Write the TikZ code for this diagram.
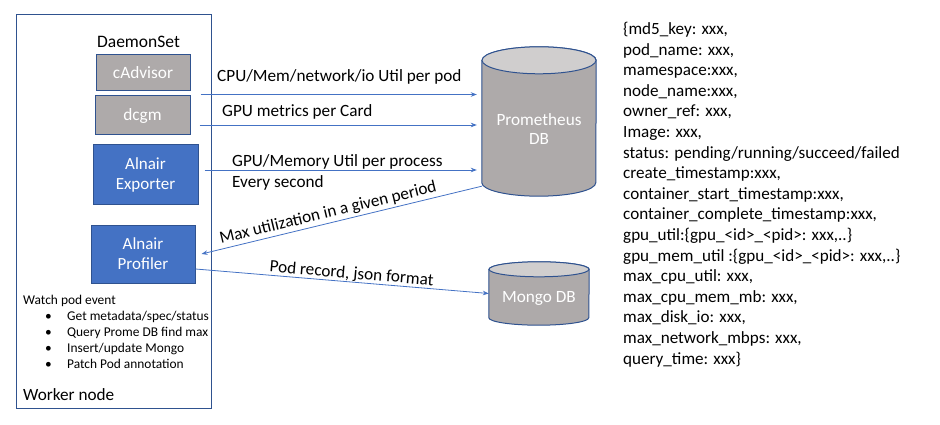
\documentclass[tikz,border=0pt]{standalone}
\usepackage{fontspec}
\setmainfont{Carlito}
\usepackage{tikz}
\usetikzlibrary{arrows.meta,positioning}
\definecolor{edgeblue}{HTML}{2F528F}
\definecolor{alnairblue}{HTML}{4472C4}
\definecolor{podgray}{HTML}{AEAAAA}
\definecolor{captop}{HTML}{D0CECE}

\begin{document}
\begin{tikzpicture}[x=1pt, y=1pt,
        every node/.style={inner sep=0pt},
        panel/.style={draw=edgeblue, line width=0.9pt},
        daemon/.style={draw=edgeblue, line width=1pt, fill=podgray, text=white, font=\fontsize{17.3}{20}\selectfont},
        alnair/.style={draw=edgeblue, line width=1pt, fill=alnairblue, text=white, align=center, font=\fontsize{17}{20}\selectfont},
        flow/.style={draw=alnairblue, line width=0.8pt, -{Stealth[length=6pt, width=4.5pt]}},
        lbl/.style={font=\fontsize{17.2}{21}\selectfont, align=left},
        dbbody/.style={fill=podgray, draw=edgeblue, line width=1pt},
        dbcap/.style={fill=captop, draw=edgeblue, line width=1pt},
        dbtext/.style={text=white, align=center, font=\fontsize{17.2}{19}\selectfont}]
    \useasboundingbox (0,0) rectangle (940,-425);

    % worker node
    \node[panel, minimum width=195, minimum height=394] (worker) at (113.5,-211) {};
    \node[font=\fontsize{17.2}{20}\selectfont, anchor=west] (wlabel) at (23,-395) {Worker node};
    \node[font=\fontsize{17.5}{20}\selectfont] (daemonset) at (138.5,-42) {DaemonSet};
    \node[daemon, minimum width=94, minimum height=36] (cadv) at (143,-73) {cAdvisor};
    \node[daemon, minimum width=95, minimum height=39] (dcgm) at (142.5,-115.5) {dcgm};
    \node[alnair, minimum width=105, minimum height=59] (exporter) at (145.5,-174.5) {Alnair\\Exporter};
    \node[alnair, minimum width=104, minimum height=58] (profiler) at (143,-254) {Alnair\\Profiler};
    \node[anchor=north west, align=left, font=\fontsize{13.4}{16.1}\selectfont] (watch) at (23,-294.5) {Watch pod event\\
        \hspace*{22pt}\makebox[22pt][l]{•}Get metadata/spec/status\\
        \hspace*{22pt}\makebox[22pt][l]{•}Query Prome DB find max\\
        \hspace*{22pt}\makebox[22pt][l]{•}Insert/update Mongo\\
        \hspace*{22pt}\makebox[22pt][l]{•}Patch Pod annotation};

    % databases
    \node[minimum width=114, minimum height=149] (prom) at (539,-121.5) {};
    \node[minimum width=100, minimum height=63] (mongo) at (539,-293.5) {};
    \foreach \db/\rx/\ry in {prom/57/13.5, mongo/50/7.5} {
        \path[dbbody] ([yshift=-\ry pt]\db.north west) -- ([yshift=\ry pt]\db.south west)
            arc[start angle=180, end angle=360, x radius=\rx, y radius=\ry]
            -- ([yshift=-\ry pt]\db.north east)
            arc[start angle=0, end angle=180, x radius=\rx, y radius=\ry] -- cycle;
        \path[dbcap] ([yshift=-\ry pt]\db.north) ellipse [x radius=\rx, y radius=\ry];
    }
    \node[dbtext] (promtxt) at ([yshift=-8pt]prom.center) {Prometheus\\DB};
    \node[dbtext] (mongotxt) at ([yshift=-4.5pt]mongo.center) {Mongo DB};

    % metrics into prometheus
    \coordinate (cpu) at ([shift={(10,-3)}]cadv.south east);
    \coordinate (gpu) at ([shift={(9,-9.5)}]dcgm.east);
    \coordinate (proc) at ([shift={(6,4.5)}]exporter.east);
    \foreach \src in {cpu, gpu, proc}
        \draw[flow, shorten >=5pt] (\src) -- (\src -| prom.west);
    \node[lbl, anchor=west] (cpulbl) at (217,-77) {CPU/Mem/network/io Util per pod};
    \node[lbl, anchor=west] (gpulbl) at (222,-112) {GPU metrics per Card};
    \node[lbl, anchor=west] (proclbl) at (232,-172.5) {GPU/Memory Util per process\\Every second};

    % profiler in and out
    \draw[flow] ([yshift=10pt]prom.south west) -- node[lbl, pos=0.54, sloped, above=2pt] (maxlbl) {Max utilization in a given period} ([xshift=6pt]profiler.east);
    \draw[flow] ([yshift=-15pt]profiler.east) -- node[lbl, pos=0.53, sloped, above=0pt] (podlbl) {Pod record, json format} (mongo.west);

    % record fields
    \node[lbl, anchor=north west, font=\fontsize{17.1}{20.6}\selectfont] (record) at (623,-22) {\{md5\_key: xxx,\\
        pod\_name: xxx,\\
        mamespace:xxx,\\
        node\_name:xxx,\\
        owner\_ref: xxx,\\
        Image: xxx,\\
        status: pending/running/succeed/failed\\
        create\_timestamp:xxx,\\
        container\_start\_timestamp:xxx,\\
        container\_complete\_timestamp:xxx,\\
        gpu\_util:\{gpu\_<id>\_<pid>: xxx,..\}\\
        gpu\_mem\_util :\{gpu\_<id>\_<pid>: xxx,..\}\\
        max\_cpu\_util: xxx,\\
        max\_cpu\_mem\_mb: xxx,\\
        max\_disk\_io: xxx,\\
        max\_network\_mbps: xxx,\\
        query\_time: xxx\}};
\end{tikzpicture}
\end{document}
